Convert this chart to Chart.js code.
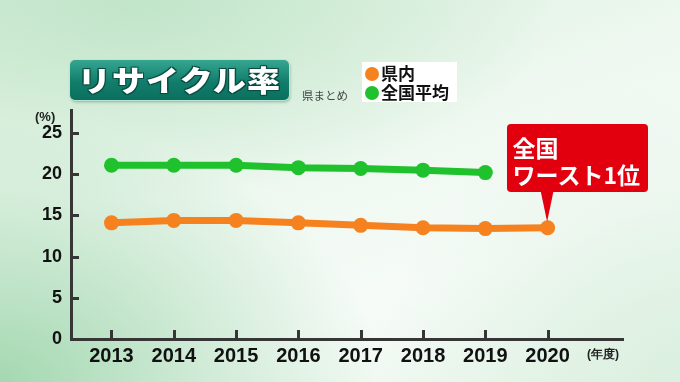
<!DOCTYPE html>
<html>
<head>
<meta charset="utf-8">
<script src="https://cdn.jsdelivr.net/npm/chart.js@4.4.1/dist/chart.umd.min.js"></script>
<style>
  html, body { margin: 0; padding: 0; }
  body {
    width: 680px; height: 382px; overflow: hidden; position: relative;
    background:
      radial-gradient(ellipse 380px 260px at 0% 100%, rgba(150,210,165,0.85), rgba(150,210,165,0) 100%),
      radial-gradient(ellipse 420px 200px at 20% 0%, rgba(190,228,198,0.9), rgba(190,228,198,0) 100%),
      radial-gradient(ellipse 300px 300px at 100% 100%, rgba(215,238,220,0.8), rgba(215,238,220,0) 100%),
      linear-gradient(160deg, #d9efdc 0%, #eef8f0 45%, #f6fbf7 70%, #e8f5ea 100%);
    font-family: "Noto Sans CJK JP", "Noto Sans", sans-serif;
  }
  canvas { position: absolute; left: 0; top: 0; }
  .title {
    position: absolute; left: 70px; top: 60px; width: 219px; height: 40px;
    border-radius: 5px;
    background: linear-gradient(#35a691, #127d6b 55%, #0b6f5e);
    box-shadow: 0 0 0 1px rgba(190,230,215,0.9), 1px 2px 3px rgba(0,60,40,0.35);
  }
  .title span {
    position: absolute; left: 0; right: 0; top: -1px; text-align: center;
    font-size: 29px; font-weight: 900; color: #fff; line-height: 40px;
    transform: scaleX(1.14); letter-spacing: 1px;
    text-shadow: 0 0 2px #0b4d42, 1px 1px 0 #0b4d42, -1px -1px 0 #0b4d42, 1px -1px 0 #0b4d42, -1px 1px 0 #0b4d42;
  }
  .sub { position: absolute; left: 302px; top: 87px; font-size: 11.5px; color: #444; line-height: 16px; }
  .legend {
    position: absolute; left: 362px; top: 62px; width: 95px; height: 40px; background: #fff;
  }
  .legend div { position: absolute; left: 0; height: 19px; line-height: 19px; font-weight: 700; font-size: 17px; color: #111; white-space: nowrap; }
  .legend i { display: inline-block; width: 14px; height: 14px; border-radius: 50%; margin: 0 2px 0 3px; vertical-align: -1px; }
  .unit { position: absolute; font-family: "Liberation Sans", Arial, sans-serif; font-weight: 700; color: #222; }
  .callout { position: absolute; background: #e2000f; border-radius: 4px; color: #fff; font-weight: 700; }
  .callout div { position: absolute; left: 6px; font-size: 23px; line-height: 26px; white-space: nowrap; }
  .pointer { position: absolute; background: #e2000f; clip-path: polygon(0 0, 100% 0, 50% 100%); }
</style>
</head>
<body>
<canvas id="c" width="680" height="382"></canvas>
<div class="title"><span>リサイクル率</span></div>
<div class="sub">県まとめ</div>
<div class="legend">
  <div style="top:1px"><i style="background:#f5821f"></i>県内</div>
  <div style="top:20px"><i style="background:#1fc12c"></i>全国平均</div>
</div>
<div class="unit" style="left:35px; top:109px; font-size:13px;">(%)</div>
<div class="unit" style="left:587px; top:346px; font-size:12px;">(年度)</div>
<div class="pointer" id="ptr"></div>
<div class="callout" id="callout"><div style="top:10px">全国</div><div style="top:37px">ワースト1位</div></div>
<script>
const years = [2013, 2014, 2015, 2016, 2017, 2018, 2019, 2020];
const prefecture = [14.1, 14.4, 14.4, 14.1, 13.8, 13.5, 13.4, 13.5];
const national = [21.1, 21.1, 21.1, 20.8, 20.7, 20.5, 20.2, null];
const yTicks = [0, 5, 10, 15, 20, 25];

const AXIS = '#363636';
const tickMarks = {
  id: 'tickMarks',
  beforeDatasetsDraw(chart) {
    const { ctx, chartArea, scales } = chart;
    ctx.save();
    ctx.strokeStyle = AXIS;
    ctx.lineWidth = 3;
    ctx.beginPath();
    yTicks.forEach(v => {
      if (v === 0) return;
      const y = Math.round(scales.y.getPixelForValue(v)) + 0.5;
      ctx.moveTo(chartArea.left, y);
      ctx.lineTo(chartArea.left + 8, y);
    });
    years.forEach(v => {
      const x = Math.round(scales.x.getPixelForValue(v)) + 0.5;
      ctx.moveTo(x, chartArea.bottom);
      ctx.lineTo(x, chartArea.bottom - 9);
    });
    ctx.stroke();
    ctx.restore();
  }
};

const toPts = arr => years.map((y, i) => ({ x: y, y: arr[i] }));

const chart = new Chart(document.getElementById('c'), {
  type: 'line',
  data: {
    datasets: [
      { label: '全国平均', data: toPts(national), borderColor: '#1fc12c', backgroundColor: '#1fc12c',
        borderWidth: 7, pointRadius: 7.5, pointBorderWidth: 0, pointHoverRadius: 7.5, spanGaps: false },
      { label: '県内', data: toPts(prefecture), borderColor: '#f5821f', backgroundColor: '#f5821f',
        borderWidth: 7, pointRadius: 7.5, pointBorderWidth: 0, pointHoverRadius: 7.5 }
    ]
  },
  options: {
    responsive: false,
    animation: false,
    devicePixelRatio: 1,
    layout: { padding: { left: 0, top: 110, right: 57, bottom: 0 } },
    plugins: { legend: { display: false }, tooltip: { enabled: false } },
    scales: {
      x: {
        type: 'linear', min: 2012.35, max: 2021.21,
        afterBuildTicks: s => { s.ticks = years.map(v => ({ value: v })); },
        afterFit: s => { s.height = 43; },
        grid: { display: false, drawTicks: false },
        border: { display: true, color: AXIS, width: 3 },
        ticks: { color: '#111', padding: 5, autoSkip: false, maxRotation: 0,
          font: { family: 'Liberation Sans', size: 20, weight: 'bold' },
          callback: v => String(v) }
      },
      y: {
        min: 0, max: 27.8,
        afterBuildTicks: s => { s.ticks = yTicks.map(v => ({ value: v })); },
        afterFit: s => { s.width = 71; },
        grid: { display: false, drawTicks: false },
        border: { display: true, color: AXIS, width: 3 },
        ticks: { color: '#111', padding: 9,
          font: { family: 'Liberation Sans', size: 18, weight: 'bold' },
          callback: v => String(v) }
      }
    }
  },
  plugins: [tickMarks]
});

// position the callout relative to the last prefecture point
const px = chart.scales.x.getPixelForValue(years[years.length - 1]);
const py = chart.scales.y.getPixelForValue(prefecture[prefecture.length - 1]);
const co = document.getElementById('callout');
co.style.left = (px - 41) + 'px';
co.style.top = (py - 104) + 'px';
co.style.width = '141px';
co.style.height = '68px';
const ptr = document.getElementById('ptr');
ptr.style.left = (px - 7) + 'px';
ptr.style.top = (py - 37) + 'px';
ptr.style.width = '13px';
ptr.style.height = '31px';
</script>
</body>
</html>
